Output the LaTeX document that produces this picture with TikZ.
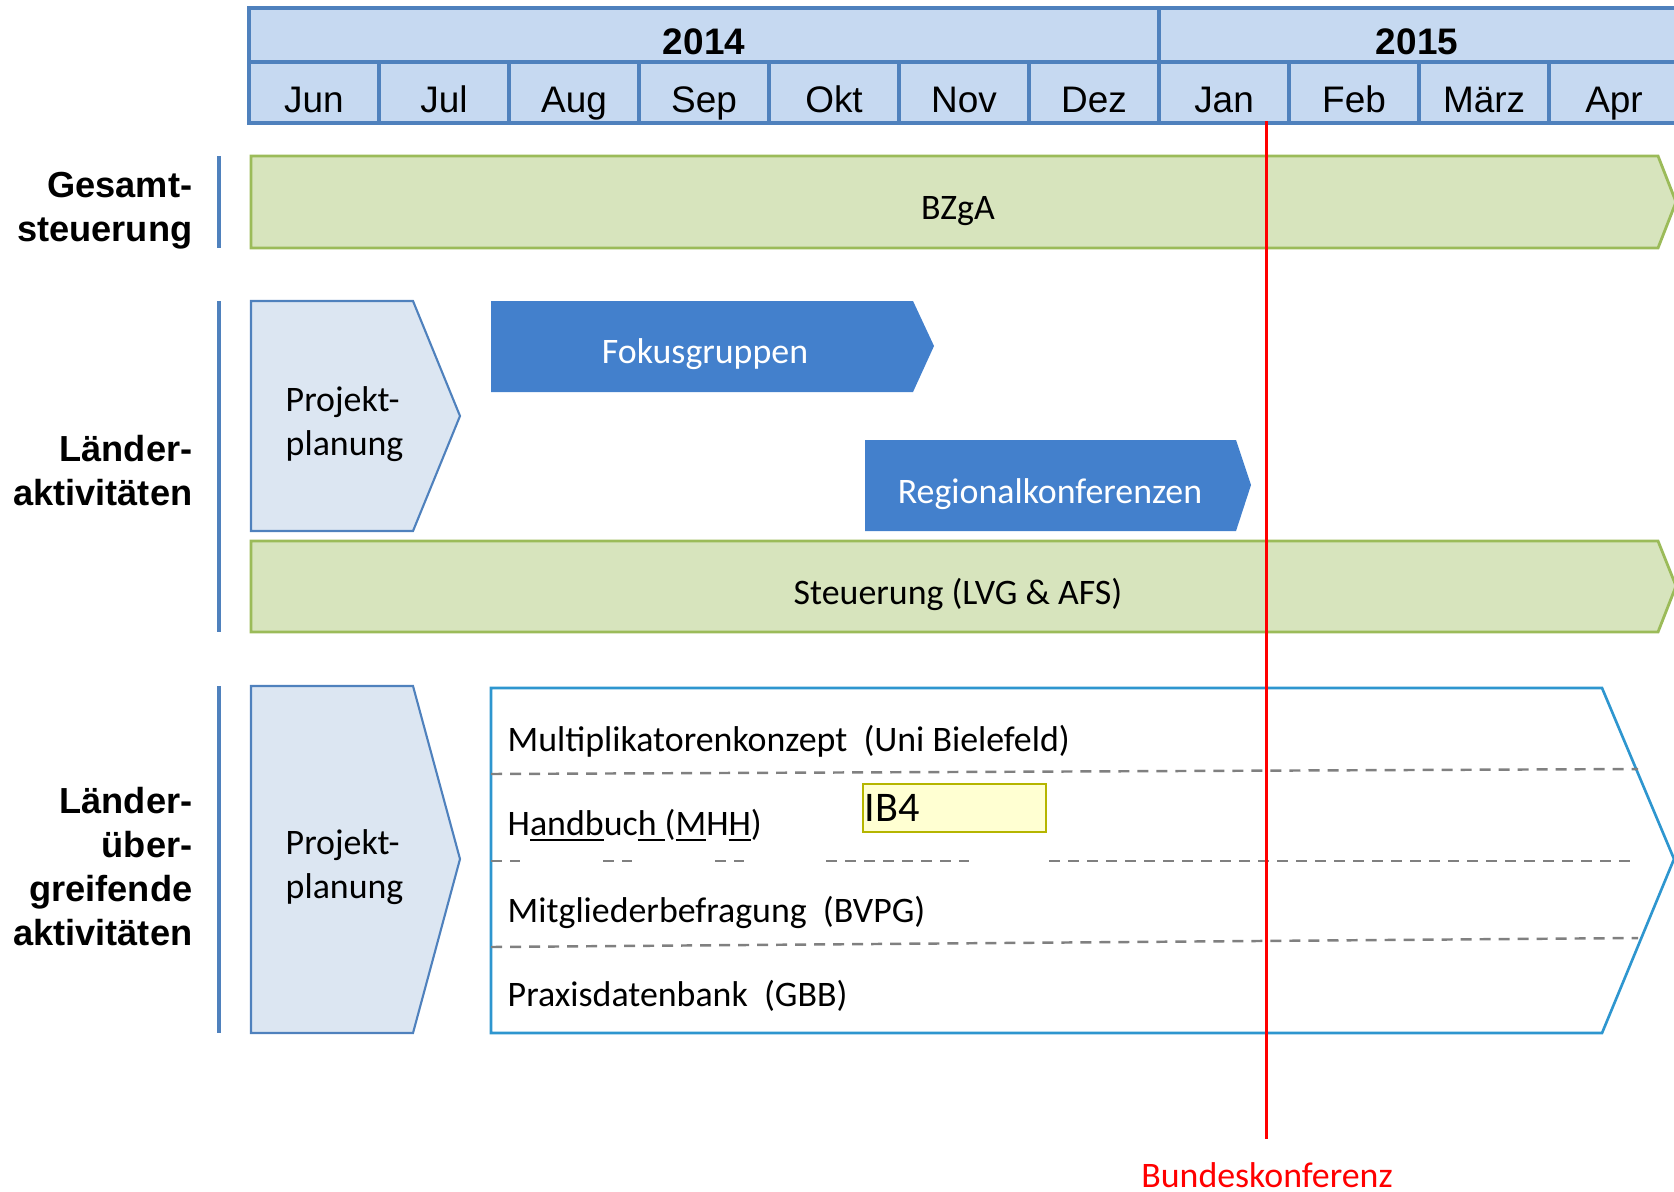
\documentclass[tikz,border=0pt]{standalone}
\usepackage{fontspec}
\setmainfont{Carlito}
\newfontfamily\arial{Liberation Sans}
\definecolor{kopfblau}{HTML}{C6D9F1}
\definecolor{rahmenblau}{HTML}{4F81BD}
\definecolor{hellgruen}{HTML}{D7E4BD}
\definecolor{gruenrand}{HTML}{9BBB59}
\definecolor{planblau}{HTML}{DCE6F2}
\definecolor{balkenblau}{HTML}{4380CC}
\definecolor{boxrand}{HTML}{2E96CF}
\definecolor{ibgelb}{HTML}{FFFFD2}
\definecolor{ibrand}{HTML}{B5B500}
\begin{document}
\begin{tikzpicture}[x=0.01cm,y=-0.01cm,line join=miter,
    kopf/.style={draw=rahmenblau,fill=kopfblau,line width=0.9pt},
    monat/.style={anchor=base,inner sep=0pt,font=\arial\fontsize{10.5}{12}\selectfont},
    jahr/.style={anchor=base,inner sep=0pt,font=\arial\bfseries\fontsize{10.5}{12}\selectfont},
    ebene/.style={anchor=base east,inner sep=0pt,align=right,font=\arial\bfseries\fontsize{10.3}{12.5}\selectfont},
    gruen/.style={draw=gruenrand,fill=hellgruen,line width=0.8pt},
    plan/.style={draw=rahmenblau,fill=planblau,line width=0.6pt},
    balken/.style={fill=balkenblau},
    txt/.style={anchor=base,inner sep=0pt,font=\fontsize{10.2}{12.5}\selectfont},
    strich/.style={draw=gray,line width=0.7pt,dash pattern=on 0.11cm off 0.08cm}]
    \useasboundingbox (0,0) rectangle (1674,1191);
    \clip (0,0) rectangle (1674,1191);
    % Kopfzeile
    \def\links{249}
    \def\breite{130}
    \draw[kopf] (\links,8) rectangle (1159,62);
    \draw[kopf] (1159,8) rectangle (1690,62);
    \node[jahr] (j14) at (704,55) {2014};
    \node[jahr] (j15) at (1417,55) {2015};
    \foreach \m [count=\i from 0] in {Jun,Jul,Aug,Sep,Okt,Nov,Dez,Jan,Feb,März,Apr}{
      \draw[kopf] (\links+\i*\breite,62) rectangle ++(\breite,61);
      \node[monat] (m\i) at (\links+\i*\breite+0.5*\breite,113) {\m};
    }
    % Ebenen links (base = letzte Zeile)
    \def\lx{219}
    \draw[rahmenblau,line width=1.1pt] (\lx,156) -- (\lx,248) (\lx,301) -- (\lx,632) (\lx,686) -- (\lx,1033);
    \node[ebene] (e1) at (193,241) {Gesamt-\\steuerung};
    \node[ebene] (e2) at (193,505) {Länder-\\aktivitäten};
    \node[ebene] (e3) at (193,945) {Länder-\\über-\\greifende\\aktivitäten};
    % Gesamtsteuerung
    \draw[gruen] (251,156) -- (1658,156) -- (1676,202) -- (1658,248) -- (251,248) -- cycle;
    \node[txt] (bzga) at (958,219) {BZgA};
    % Laenderaktivitaeten
    \draw[plan] (251,301) -- (413,301) -- (460,416) -- (413,531) -- (251,531) -- cycle;
    \node[txt,anchor=base west,align=left] (p1) at (285,455) {Projekt-\\planung};
    \fill[balken] (491,301) -- (913,301) -- (934,346) -- (913,392) -- (491,392) -- cycle;
    \node[txt,text=white] (fokus) at (705,363) {Fokusgruppen};
    \fill[balken] (865,440) -- (1236,440) -- (1251,485) -- (1236,531) -- (865,531) -- cycle;
    \node[txt,text=white] (regio) at (1050,503) {Regionalkonferenzen};
    \draw[gruen] (251,541) -- (1658,541) -- (1676,586) -- (1658,632) -- (251,632) -- cycle;
    \node[txt] (steu) at (958,604) {Steuerung (LVG \& AFS)};
    % Laenderuebergreifend
    \draw[plan] (251,686) -- (413,686) -- (460,859) -- (413,1033) -- (251,1033) -- cycle;
    \node[txt,anchor=base west,align=left] (p2) at (285,898) {Projekt-\\planung};
    \draw[boxrand,line width=0.75pt] (491,688) -- (1602,688) -- (1674,859) -- (1602,1033) -- (491,1033) -- cycle;
    \draw[strich] (491,774) -- (1638,769);
    \foreach \a/\b in {491/520,603/632,715/744,826/969,1049/1638}
      \draw[strich] (\a,861) -- (\b,861);
    \draw[strich] (491,947) -- (1638,938);
    \node[txt,anchor=base west] (multi) at (507,751) {Multiplikatorenkonzept\ \ (Uni Bielefeld)};
    \node[txt,anchor=base west] (hand) at (507,835) {H\underline{andb}uc\underline{h\ }(\underline{M}H\underline{H})};
    \node[txt,anchor=base west] (mitgl) at (507,922) {Mitgliederbefragung\ \ (BVPG)};
    \node[txt,anchor=base west] (praxis) at (507,1006) {Praxisdatenbank\ \ (GBB)};
    \draw[ibrand,fill=ibgelb,line width=0.6pt] (863,784) rectangle (1046,832);
    \node[anchor=base west,inner sep=0pt,font=\fontsize{12}{14}\selectfont] (ib) at (864,821) {IB4};
    % Bundeskonferenz
    \coordinate (bk-oben) at (1266,121);
    \coordinate (bk-unten) at (1266,1139);
    \node[txt,text=red] (bk) at (1267,1187) {Bundeskonferenz};
    \draw[red,line width=0.85pt] (bk-oben) -- (bk-unten);
  \end{tikzpicture}
\end{document}
